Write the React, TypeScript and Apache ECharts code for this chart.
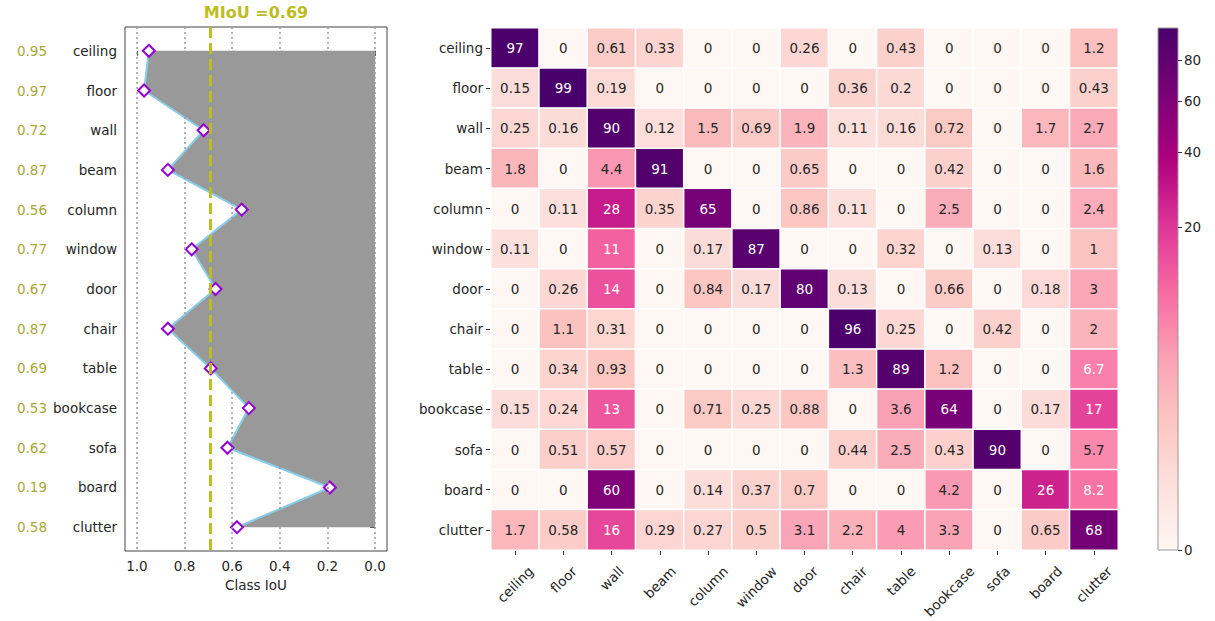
import React, { useEffect, useRef } from 'react';
import * as echarts from 'echarts';

const classes = ['ceiling', 'floor', 'wall', 'beam', 'column', 'window', 'door', 'chair', 'table', 'bookcase', 'sofa', 'board', 'clutter'];
const classIoU = [0.95, 0.97, 0.72, 0.87, 0.56, 0.77, 0.67, 0.87, 0.69, 0.53, 0.62, 0.19, 0.58];
const meanIoU = 0.69;
const iouTicks = [0, 0.2, 0.4, 0.6, 0.8, 1.0];
const colorbarTicks = [0, 20, 40, 60, 80];

const rowCeiling = [97, 0, 0.61, 0.33, 0, 0, 0.26, 0, 0.43, 0, 0, 0, 1.2];
const rowFloor = [0.15, 99, 0.19, 0, 0, 0, 0, 0.36, 0.2, 0, 0, 0, 0.43];
const rowWall = [0.25, 0.16, 90, 0.12, 1.5, 0.69, 1.9, 0.11, 0.16, 0.72, 0, 1.7, 2.7];
const rowBeam = [1.8, 0, 4.4, 91, 0, 0, 0.65, 0, 0, 0.42, 0, 0, 1.6];
const rowColumn = [0, 0.11, 28, 0.35, 65, 0, 0.86, 0.11, 0, 2.5, 0, 0, 2.4];
const rowWindow = [0.11, 0, 11, 0, 0.17, 87, 0, 0, 0.32, 0, 0.13, 0, 1];
const rowDoor = [0, 0.26, 14, 0, 0.84, 0.17, 80, 0.13, 0, 0.66, 0, 0.18, 3];
const rowChair = [0, 1.1, 0.31, 0, 0, 0, 0, 96, 0.25, 0, 0.42, 0, 2];
const rowTable = [0, 0.34, 0.93, 0, 0, 0, 0, 1.3, 89, 1.2, 0, 0, 6.7];
const rowBookcase = [0.15, 0.24, 13, 0, 0.71, 0.25, 0.88, 0, 3.6, 64, 0, 0.17, 17];
const rowSofa = [0, 0.51, 0.57, 0, 0, 0, 0, 0.44, 2.5, 0.43, 90, 0, 5.7];
const rowBoard = [0, 0, 60, 0, 0.14, 0.37, 0.7, 0, 0, 4.2, 0, 26, 8.2];
const rowClutter = [1.7, 0.58, 16, 0.29, 0.27, 0.5, 3.1, 2.2, 4, 3.3, 0, 0.65, 68];
const confusion = [rowCeiling, rowFloor, rowWall, rowBeam, rowColumn, rowWindow, rowDoor, rowChair, rowTable, rowBookcase, rowSofa, rowBoard, rowClutter];

const RdPu = ['#fff7f3', '#fde0dd', '#fcc5c0', '#fa9fb5', '#f768a1', '#dd3497', '#ae017e', '#7a0177', '#49006a'];
const gamma = 0.3;
const FONT = '"DejaVu Sans", sans-serif';
const FS = 13.5;
const OLIVE = '#bcbd22';
const TXT = '#262626';

export default function App() {
  const ref = useRef<HTMLDivElement>(null);
  useEffect(() => {
    if (!ref.current) return;
    const chart = echarts.init(ref.current, undefined, { renderer: 'svg' });
    const vmax = Math.max(...confusion.flat());
    const norm = (v: number) => Math.pow(v / vmax, gamma);

    const canvas = document.createElement('canvas');
    const ctx = canvas.getContext('2d')!;
    ctx.font = `${FS}px "DejaVu Sans"`;
    const rich: any = {};
    classes.forEach((c, i) => {
      const L = ctx.measureText(c).width;
      const p = (L + FS) / 2;
      rich['r' + i] = { padding: [p, p, 0, 0], fontSize: FS, fontFamily: FONT, color: TXT };
    });

    const heatData: any[] = [];
    confusion.forEach((row, r) =>
      row.forEach((v, c) => {
        heatData.push({ value: [c, r, v, norm(v)], label: { color: v >= 6 ? '#ffffff' : TXT } });
      })
    );

    const idx = classes.map((_, i) => i);
    const cbStops = RdPu.map((col, i) => ({ offset: i / (RdPu.length - 1), color: col }));

    const option: any = {
      animation: false,
      textStyle: { fontFamily: FONT },
      title: {
        text: `MIoU =${meanIoU.toFixed(2)}`,
        left: 256,
        top: 4,
        padding: 0,
        textAlign: 'center',
        textStyle: { color: OLIVE, fontWeight: 'bold', fontSize: 16, fontFamily: FONT },
      },
      grid: [
        { left: 125, top: 27, width: 262, height: 524, show: true, borderColor: '#444', borderWidth: 1, backgroundColor: 'transparent' },
        { left: 491, top: 28, width: 627, height: 522, show: true, borderColor: '#333', borderWidth: 1, backgroundColor: 'transparent' },
        {
          left: 1158, top: 28, width: 20, height: 522, show: true, borderColor: '#999', borderWidth: 1,
          backgroundColor: new echarts.graphic.LinearGradient(0, 1, 0, 0, cbStops),
        },
      ],
      xAxis: [
        {
          type: 'value', gridIndex: 0, min: -0.05, max: 1.05, inverse: true,
          name: 'Class IoU', nameLocation: 'middle', nameGap: 27,
          nameTextStyle: { fontSize: FS, color: TXT, fontFamily: FONT },
          axisLine: { show: false },
          axisTick: { show: true, customValues: iouTicks, length: 5, lineStyle: { color: '#444' } },
          axisLabel: { customValues: iouTicks, formatter: (v: number) => v.toFixed(1), fontSize: FS, color: TXT, margin: 8 },
          splitLine: { show: false },
        },
        {
          type: 'category', gridIndex: 1, data: classes,
          axisLine: { show: false },
          axisTick: { show: true, alignWithLabel: true, length: 5, lineStyle: { color: '#333' } },
          axisLabel: {
            interval: 0, rotate: 45, align: 'center', verticalAlign: 'middle', margin: 14,
            formatter: (v: string, i: number) => `{r${i}|${v}}`, rich,
          },
          splitLine: { show: false },
        },
        { type: 'category', gridIndex: 2, data: ['cb'], show: false },
      ],
      yAxis: [
        {
          type: 'value', gridIndex: 0, min: -0.6, max: 12.6, inverse: true,
          axisLine: { show: false },
          axisTick: { show: true, customValues: idx, length: 5, lineStyle: { color: '#444' } },
          axisLabel: { customValues: idx, formatter: (v: number) => classes[Math.round(v)], fontSize: FS, color: TXT, margin: 8 },
          splitLine: { show: false },
        },
        {
          type: 'value', gridIndex: 0, min: -0.6, max: 12.6, inverse: true, position: 'left', offset: 70,
          axisLine: { show: false },
          axisTick: { show: false },
          axisLabel: { customValues: idx, formatter: (v: number) => classIoU[Math.round(v)].toFixed(2), fontSize: FS, color: '#a8a838', margin: 8 },
          splitLine: { show: false },
        },
        {
          type: 'category', gridIndex: 1, data: classes, inverse: true,
          axisLine: { show: false },
          axisTick: { show: true, alignWithLabel: true, length: 5, lineStyle: { color: '#333' } },
          axisLabel: { interval: 0, fontSize: FS, color: TXT, margin: 8 },
          splitLine: { show: false },
        },
        {
          type: 'value', gridIndex: 2, min: 0, max: 1, position: 'right',
          axisLine: { show: false },
          axisTick: { show: true, customValues: colorbarTicks.map(norm), length: 4, lineStyle: { color: '#333' } },
          axisLabel: {
            customValues: colorbarTicks.map(norm), fontSize: FS, color: TXT, margin: 6,
            formatter: (v: number) => {
              const k = colorbarTicks.findIndex((t) => Math.abs(norm(t) - v) < 1e-6);
              return k >= 0 ? String(colorbarTicks[k]) : '';
            },
          },
          splitLine: { show: false },
        },
      ],
      visualMap: {
        show: false, type: 'continuous', min: 0, max: 1, dimension: 3, seriesIndex: 3,
        inRange: { color: RdPu },
      },
      series: [
        {
          type: 'custom', xAxisIndex: 0, yAxisIndex: 0, z: 1, silent: true,
          data: classIoU.map((v, i) => [v, i]),
          encode: { x: 0, y: 1 },
          renderItem: (params: any, api: any) => {
            if (params.dataIndex !== 0) return null;
            const pts = classIoU.map((v, i) => api.coord([v, i]));
            pts.push(api.coord([0, classIoU.length - 1]));
            pts.push(api.coord([0, 0]));
            return { type: 'polygon', shape: { points: pts }, style: { fill: '#999999' } };
          },
        },
        {
          type: 'line', xAxisIndex: 0, yAxisIndex: 0, z: 2, silent: true, data: [],
          markLine: {
            silent: true, symbol: 'none', label: { show: false },
            lineStyle: { type: [2, 3], color: '#9a9a9a', width: 1.5 },
            data: iouTicks.map((t) => ({ xAxis: t })),
          },
        },
        {
          type: 'line', xAxisIndex: 0, yAxisIndex: 0, z: 3,
          data: classIoU.map((v, i) => [v, i]),
          lineStyle: { color: '#87ceeb', width: 2 },
          symbol: 'diamond', symbolSize: 12,
          itemStyle: { color: '#ffffff', borderColor: '#9400d3', borderWidth: 2 },
          markLine: {
            silent: true, symbol: 'none', label: { show: false },
            lineStyle: { type: [11, 5], color: OLIVE, width: 3 },
            data: [{ xAxis: meanIoU }],
          },
        },
        {
          type: 'heatmap', xAxisIndex: 1, yAxisIndex: 2,
          data: heatData,
          itemStyle: { borderColor: '#ffffff', borderWidth: 1.5 },
          label: { show: true, fontSize: FS, fontFamily: FONT, formatter: (p: any) => String(p.value[2]) },
        },
      ],
    };
    chart.setOption(option);
    return () => chart.dispose();
  }, []);
  return <div ref={ref} style={{ position: 'absolute', left: 0, top: 0, width: 1215, height: 621, background: '#fff' }} />;
}
